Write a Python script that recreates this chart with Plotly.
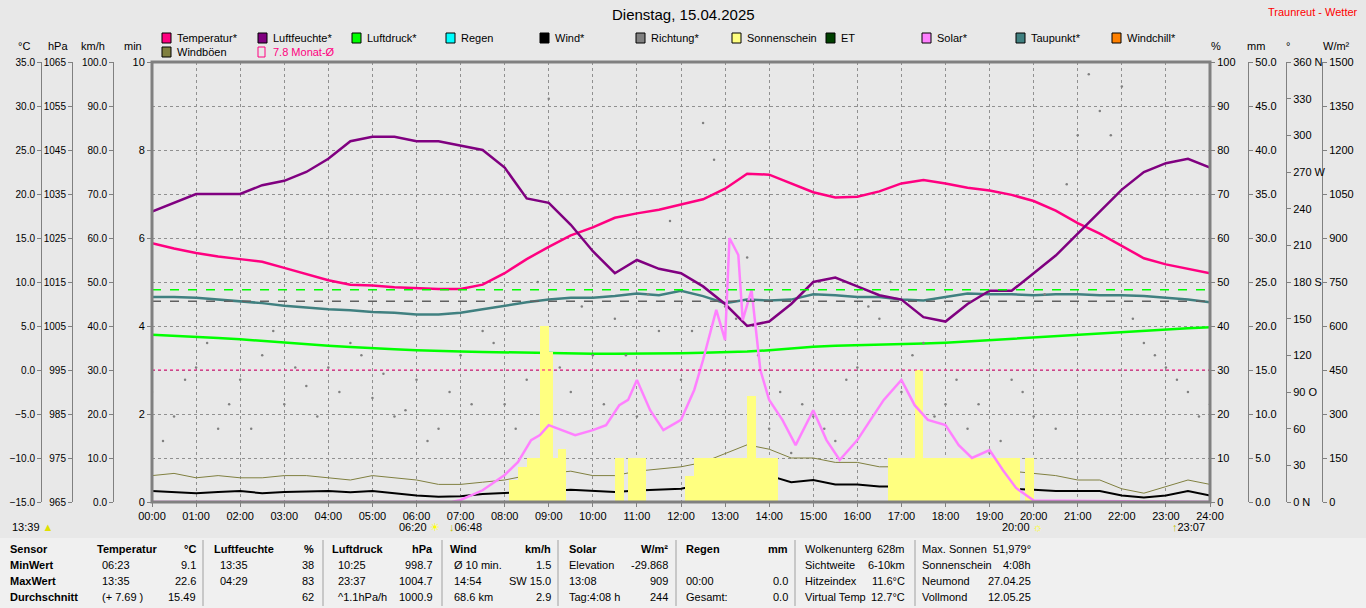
import plotly.graph_objects as go

W, H = 1366, 608
BG = "#e8e8e8"

# half-hourly time axis (hours)
hours = [0, 0.5, 1, 1.5, 2, 2.5, 3, 3.5, 4, 4.5, 5, 5.5, 6, 6.5, 7, 7.5, 8, 8.5, 9, 9.5,
         10, 10.5, 11, 11.5, 12, 12.5, 13, 13.5, 14, 14.5, 15, 15.5, 16, 16.5, 17, 17.5,
         18, 18.5, 19, 19.5, 20, 20.5, 21, 21.5, 22, 22.5, 23, 23.5, 24]
temp = [14.4, 13.8, 13.3, 12.9, 12.6, 12.3, 11.6, 10.9, 10.2, 9.7, 9.6, 9.4, 9.3, 9.2, 9.2, 9.7,
        11.0, 12.6, 14.0, 15.3, 16.2, 17.3, 17.8, 18.2, 18.8, 19.4, 20.6, 22.3, 22.2, 21.2, 20.2,
        19.6, 19.7, 20.3, 21.2, 21.6, 21.2, 20.7, 20.4, 19.9, 19.2, 18.1, 16.7, 15.5, 14.1, 12.7,
        12.0, 11.5, 11.0]
humid = [66, 68, 70, 70, 70, 72, 73, 75, 78, 82, 83, 83, 82, 82, 81, 80, 76, 69, 68, 63, 57, 52,
         55, 53, 52, 49, 45, 40, 41, 45, 50, 51, 49, 47, 46, 42, 41, 45, 48, 48, 52, 56, 61, 66,
         71, 75, 77, 78, 76]
press = [1003.0, 1002.8, 1002.5, 1002.3, 1002.0, 1001.6, 1001.2, 1000.8, 1000.5, 1000.2, 999.9,
         999.7, 999.5, 999.3, 999.2, 999.1, 999.0, 998.9, 998.8, 998.7, 998.7, 998.7, 998.7, 998.7,
         998.8, 998.9, 999.0, 999.2, 999.5, 999.9, 1000.3, 1000.5, 1000.6, 1000.8, 1000.9, 1001.0,
         1001.2, 1001.5, 1001.8, 1002.1, 1002.5, 1002.8, 1003.1, 1003.4, 1003.7, 1004.0, 1004.3,
         1004.5, 1004.7]
dew = [8.3, 8.3, 8.2, 8.0, 7.8, 7.6, 7.3, 7.1, 6.9, 6.8, 6.6, 6.5, 6.3, 6.3, 6.5, 6.9, 7.3, 7.7,
       8.0, 8.2, 8.2, 8.4, 8.7, 8.5, 9.0, 8.4, 7.6, 8.0, 7.9, 8.0, 8.6, 8.5, 8.3, 8.3, 8.0, 7.9,
       8.3, 8.7, 8.6, 8.6, 8.5, 8.6, 8.6, 8.5, 8.5, 8.4, 8.2, 8.0, 7.7]
wind = [2.5, 2.2, 2.0, 2.3, 2.5, 2.0, 2.3, 2.4, 2.5, 2.2, 2.5, 2.0, 1.5, 1.2, 1.3, 1.8, 2.0, 2.2,
        2.5, 2.8, 2.5, 2.3, 2.6, 2.8, 3.0, 4.0, 5.5, 7.0, 6.0, 4.5, 5.0, 4.0, 4.0, 3.5, 3.5, 3.0,
        3.5, 3.5, 3.0, 3.0, 2.8, 2.5, 2.5, 2.5, 1.5, 1.0, 1.5, 2.5, 1.5]
gusts = [6, 6.5, 5.5, 6, 5.5, 5.5, 6, 6, 5.5, 5, 6, 5.5, 5, 4, 4, 4.5, 5, 6, 6.5, 7, 6, 6, 7, 7.5,
         8, 9, 11, 13, 12, 10, 10, 9, 9, 8, 8, 7.5, 8.5, 8, 7, 7, 6.5, 6, 5, 5, 3, 2, 3.5, 5, 4]
rain = [0] * 49

# wind direction samples
dir_a = [90, 70, 110, 60, 100, 120, 80, 95, 110, 130, 85, 70, 100, 60, 120, 140, 80, 100, 330,
         90, 120, 150, 70, 140, 100, 310, 160, 200, 60, 40, 70, 50, 110, 150, 90, 130, 80, 60,
         40, 100, 70, 60, 300, 320, 340, 130, 110, 90, 80]
hours_b = [0.25, 0.75, 1.25, 1.75, 2.25, 2.75, 3.25, 3.75, 4.25, 4.75, 5.25, 5.75, 6.25, 6.75,
           7.25, 7.75, 8.25, 8.75, 9.25, 9.75, 10.25, 10.75, 11.25, 11.75, 12.25, 12.75, 13.25,
           13.75, 14.25, 14.75, 15.25, 15.75, 16.25, 16.75, 17.25, 17.75, 18.25, 18.75, 19.25,
           19.75, 20.25, 20.75, 21.25, 21.75, 22.25, 22.75, 23.25, 23.75]
dir_b = [50, 100, 130, 80, 60, 140, 110, 70, 90, 120, 105, 75, 50, 90, 80, 130, 60, 180, 110,
         160, 80, 120, 170, 230, 140, 280, 150, 120, 90, 80, 60, 100, 160, 180, 120, 70, 100, 80,
         50, 90, 170, 260, 350, 300, 150, 120, 100, 70]

# solar radiation
sol_t = [0, 6.8, 7.0, 7.5, 8.0, 8.3, 8.6, 8.8, 9.0, 9.3, 9.6, 10.0, 10.3, 10.6, 10.8, 11.0, 11.3,
         11.6, 12.0, 12.3, 12.5, 12.8, 13.0, 13.1, 13.3, 13.4, 13.6, 13.8, 14.0, 14.3, 14.6, 15.0,
         15.3, 15.6, 16.0, 16.3, 16.6, 17.0, 17.3, 17.6, 18.0, 18.3, 18.6, 19.0, 19.3, 19.6, 20.0, 24]
sol_v = [0, 0, 7, 40, 92, 136, 211, 228, 262, 245, 228, 245, 262, 330, 348, 416, 313, 245, 280,
         382, 484, 655, 552, 900, 842, 620, 723, 450, 348, 280, 194, 313, 211, 143, 211, 280, 348,
         416, 330, 280, 262, 194, 150, 177, 109, 48, 5, 0]

# sunshine minutes
sun_t = [8.2, 8.4, 8.6, 8.8, 8.9, 9.0, 9.1, 9.3, 10.6, 10.9, 11.1, 12.2, 12.4, 12.6, 12.8, 13.0,
         13.2, 13.4, 13.6, 13.8, 14.0, 14.1, 16.8, 17.0, 17.2, 17.4, 17.6, 17.8, 18.0, 18.2, 18.4,
         18.6, 18.8, 19.0, 19.2, 19.4, 19.6, 19.9]
sun_v = [0.5, 0.8, 1.0, 1.0, 4.0, 3.4, 1.0, 1.2, 1.0, 1.0, 1.0, 0.6, 1.0, 1.0, 1.0, 1.0, 1.0, 1.0,
         2.4, 1.0, 1.0, 1.0, 1.0, 1.0, 1.0, 3.0, 1.0, 1.0, 1.0, 1.0, 1.0, 1.0, 1.0, 1.0, 1.0, 1.0,
         1.0, 1.0]

x_labels = ["%02d:00" % h for h in range(25)]
dir_ticks = ["0 N", "30", "60", "90 O", "120", "150", "180 S", "210", "240", "270 W", "300", "330", "360 N"]


def px(x):
    return x / W


def py(y):
    return (502 - y) / 440


fig = go.Figure()
fig.add_trace(go.Bar(x=sun_t, y=sun_v, width=0.2, marker_color="#ffff80", marker_line_width=0, yaxis="y4"))
fig.add_trace(go.Scatter(x=hours, y=dir_a, mode="markers", marker=dict(color="#808080", size=2.5), yaxis="y7"))
fig.add_trace(go.Scatter(x=hours_b, y=dir_b, mode="markers", marker=dict(color="#808080", size=2.5), yaxis="y7"))
fig.add_trace(go.Scatter(x=hours, y=rain, mode="lines", line=dict(color="#00ffff", width=1), yaxis="y6"))
fig.add_trace(go.Scatter(x=hours, y=gusts, mode="lines", line=dict(color="#808040", width=1), yaxis="y3"))
fig.add_trace(go.Scatter(x=hours, y=wind, mode="lines", line=dict(color="black", width=2), yaxis="y3"))
fig.add_trace(go.Scatter(x=sol_t, y=sol_v, mode="lines", line=dict(color="#ff80ff", width=2.5), yaxis="y8"))
fig.add_trace(go.Scatter(x=hours, y=press, mode="lines", line=dict(color="#00ff00", width=2.5), yaxis="y2"))
fig.add_trace(go.Scatter(x=hours, y=dew, mode="lines", line=dict(color="#408080", width=2.5), yaxis="y"))
fig.add_trace(go.Scatter(x=hours, y=temp, mode="lines", line=dict(color="#ff0080", width=2.5), yaxis="y"))
fig.add_trace(go.Scatter(x=hours, y=humid, mode="lines", line=dict(color="#800080", width=2.5), yaxis="y5"))

tickfont = dict(size=11, color="black")
base = dict(showline=True, linecolor="#808080", ticks="outside", ticklen=4, tickcolor="#808080",
            tickfont=tickfont, showgrid=False, zeroline=False, fixedrange=True, automargin=False)
small = dict(size=10, color="black", family="Liberation Sans Narrow, Liberation Sans, Arial")
GRID = "3px,3px"

fig.update_layout(
    width=W, height=H, showlegend=False, bargap=0, template="none",
    margin=dict(l=0, r=0, t=62, b=106, pad=0),
    paper_bgcolor=BG, plot_bgcolor=BG,
    font=dict(family="Liberation Sans, Arial", size=11, color="black"),
    xaxis=dict(domain=[px(152), px(1210)], range=[0, 24], tickvals=list(range(25)), ticktext=x_labels,
               showgrid=True, gridcolor="#909090", griddash=GRID, gridwidth=1, ticks="outside",
               ticklen=4, tickcolor="#808080", showline=False, zeroline=False, tickfont=tickfont,
               automargin=False, fixedrange=True),
    yaxis=dict(base, range=[-15, 35], dtick=5, tickformat=".1f", anchor="free", position=px(41),
               showgrid=True, gridcolor="#909090", griddash=GRID, gridwidth=1, tickfont=small),
    yaxis2=dict(base, range=[965, 1065], dtick=10, tick0=965, anchor="free", position=px(72),
                overlaying="y", tickfont=small),
    yaxis3=dict(base, range=[0, 100], dtick=10, tickformat=".1f", anchor="free", position=px(113),
                overlaying="y", tickfont=small),
    yaxis4=dict(base, range=[0, 10], dtick=2, anchor="x", overlaying="y"),
    yaxis5=dict(base, range=[0, 100], dtick=10, anchor="x", side="right", overlaying="y"),
    yaxis6=dict(base, range=[0, 50], dtick=5, tickformat=".1f", anchor="free", position=px(1248),
                side="right", overlaying="y"),
    yaxis7=dict(base, range=[0, 360], tickvals=list(range(0, 361, 30)), ticktext=dir_ticks,
                anchor="free", position=px(1286), side="right", overlaying="y"),
    yaxis8=dict(base, range=[0, 1500], dtick=150, anchor="free", position=px(1322), side="right", overlaying="y"),
)

# reference lines
fig.add_shape(type="line", xref="x", yref="y2", x0=0, x1=24, y0=1013.25, y1=1013.25,
              line=dict(color="#00ff00", width=1.5, dash="dash"))
fig.add_shape(type="line", xref="x", yref="y", x0=0, x1=24, y0=7.8, y1=7.8,
              line=dict(color="#606060", width=1.5, dash="dash"))
fig.add_shape(type="line", xref="x", yref="y", x0=0, x1=24, y0=0, y1=0,
              line=dict(color="#ff0080", width=1, dash="dot"))
# frame
fig.add_shape(type="rect", xref="paper", yref="paper", x0=px(152), x1=px(1210), y0=0, y1=1,
              line=dict(color="#808080", width=3))

ann = []


def txt(x, y, s, anchor="left", color="black", size=11, bold=False):
    if bold:
        s = "<b>" + s + "</b>"
    ann.append(dict(x=px(x), y=py(y), xref="paper", yref="paper", text=s, showarrow=False,
                    xanchor=anchor, yanchor="middle", font=dict(color=color, size=size)))


txt(683, 15, "Dienstag, 15.04.2025", "center", size=15)
txt(1360, 12, "Traunreut - Wetter", "right", color="red", size=11)
for x, s in [(24, "°C"), (58, "hPa"), (93, "km/h"), (133, "min"), (1216, "%"), (1256, "mm"),
             (1288, "°"), (1336, "W/m²")]:
    txt(x, 46, s, "center")

legend = [(162, 38, "Temperatur*", "#ff0080"), (258, 38, "Luftfeuchte*", "#800080"),
          (352, 38, "Luftdruck*", "#00ff00"), (446, 38, "Regen", "#00ffff"),
          (540, 38, "Wind*", "#000000"), (636, 38, "Richtung*", "#808080"),
          (732, 38, "Sonnenschein", "#ffff80"), (826, 38, "ET", "#004000"),
          (922, 38, "Solar*", "#ff80ff"), (1016, 38, "Taupunkt*", "#408080"),
          (1112, 38, "Windchill*", "#ff8000"), (162, 52, "Windböen", "#808040")]
for x, y, s, c in legend:
    fig.add_shape(type="rect", xref="paper", yref="paper", x0=px(x), x1=px(x + 9), y0=py(y + 5),
                  y1=py(y - 5), fillcolor=c, line=dict(color="black", width=1))
    txt(x + 13, y, s)
fig.add_shape(type="rect", xref="paper", yref="paper", x0=px(258), x1=px(265), y0=py(57),
              y1=py(47), line=dict(color="#ff0080", width=1))
txt(271, 52, "7.8 Monat-Ø", color="#ff0080")

# sun / moon times under the axis
txt(10, 527, "13:39 <span style='color:#e0e000'>▲</span>")
txt(397, 527, "06:20 <span style='color:#ffff00'>☀</span>")
txt(447, 527, "<span style='color:#c0c000'>↓</span>06:48")
txt(1000, 527, "20:00 <span style='color:#ffff00'>☼</span>")
txt(1170, 527, "<span style='color:#c0c000'>↑</span>23:07")

# table
fig.add_shape(type="rect", xref="paper", yref="paper", x0=0, x1=1, y0=py(608), y1=py(538),
              fillcolor="#f0f0f0", line=dict(width=0), layer="below")
for x in [203, 323, 442, 558, 676, 795, 915]:
    fig.add_shape(type="line", xref="paper", yref="paper", x0=px(x), x1=px(x), y0=py(606), y1=py(540),
                  line=dict(color="#a0a0a0", width=1))
rows = [549, 565, 581, 597]
for y, s in zip(rows, ["Sensor", "MinWert", "MaxWert", "Durchschnitt"]):
    txt(8, y, s, bold=True)
cols = [
    (95, 198, "Temperatur", "°C", [("06:23", "9.1"), ("13:35", "22.6"), ("(+ 7.69 )", "15.49")], 100),
    (212, 316, "Luftfeuchte", "%", [("13:35", "38"), ("04:29", "83"), ("", "62")], 218),
    (330, 435, "Luftdruck", "hPa", [("10:25", "998.7"), ("23:37", "1004.7"), ("^1.1hPa/h", "1000.9")], 336),
    (448, 553, "Wind", "km/h", [("Ø 10 min.", "1.5"), ("14:54", "SW 15.0"), ("68.6 km", "2.9")], 452),
    (567, 670, "Solar", "W/m²", [("Elevation", "-29.868"), ("13:08", "909"), ("Tag:4:08 h", "244")], 567),
    (684, 790, "Regen", "mm", [("", ""), ("00:00", "0.0"), ("Gesamt:", "0.0")], 684),
]
for xl, xr, head, unit, vals, xv in cols:
    txt(xl, rows[0], head, bold=True)
    txt(xr, rows[0], unit, "right", bold=True)
    for y, (a, b) in zip(rows[1:], vals):
        if a:
            txt(xv, y, a)
        if b:
            txt(xr, y, b, "right")
for y, a, b in zip(rows, ["Wolkenunterg", "Sichtweite", "Hitzeindex", "Virtual Temp"],
                   ["628m", "6-10km", "11.6°C", "12.7°C"]):
    txt(803, y, a)
    txt(907, y, b, "right")
for y, a, b in zip(rows, ["Max. Sonnen", "Sonnenschein", "Neumond", "Vollmond"],
                   ["51,979°", "4:08h", "27.04.25", "12.05.25"]):
    txt(920, y, a)
    txt(1033, y, b, "right")

fig.update_layout(annotations=ann)
fig.write_html("out.html", config={"displayModeBar": False},
               post_script="document.body.style.margin='0';document.body.style.overflow='hidden';")
